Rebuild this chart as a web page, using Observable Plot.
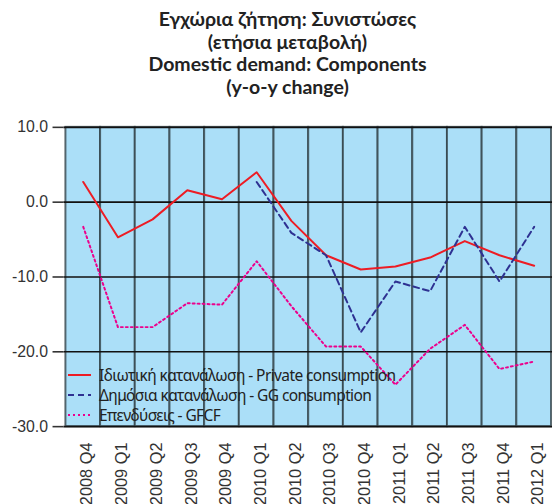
<!DOCTYPE html>
<html><head><meta charset="utf-8">
<script src="https://cdn.jsdelivr.net/npm/d3@7"></script>
<script src="https://cdn.jsdelivr.net/npm/@observablehq/plot@0.6"></script>
<style>
html,body{margin:0;padding:0;overflow:hidden;background:#fff;width:553px;height:504px;position:relative;}
#title{position:absolute;left:22px;top:8px;width:531px;text-align:center;font-family:Lato,"Open Sans",sans-serif;font-weight:bold;font-size:19.5px;line-height:22.5px;color:#222;}
#chart{position:absolute;left:0;top:110px;}
#legend{position:absolute;left:68px;top:365px;font-family:"Noto Sans",sans-serif;font-size:15.5px;letter-spacing:-0.6px;color:#222;}
.row{display:flex;align-items:center;height:20px;white-space:nowrap;}
.row svg{margin-right:8px;}
</style></head><body>
<div id="title">Εγχώρια ζήτηση: Συνιστώσες<br>(ετήσια μεταβολή)<br>Domestic demand: Components<br>(y-o-y change)</div>
<div id="chart"></div>
<div id="legend"></div>
<script>
const quarters = ["2008 Q4","2009 Q1","2009 Q2","2009 Q3","2009 Q4","2010 Q1","2010 Q2","2010 Q3","2010 Q4","2011 Q1","2011 Q2","2011 Q3","2011 Q4","2012 Q1"];
const privateConsumption = [2.7, -4.7, -2.3, 1.6, 0.4, 4.0, -2.5, -7.1, -9.0, -8.6, -7.4, -5.2, -7.1, -8.5];
const ggConsumption = [null, null, null, null, null, 2.7, -4.1, -7.1, -17.4, -10.6, -11.9, -3.3, -10.6, -3.3];
const gfcf = [-3.3, -16.7, -16.7, -13.5, -13.7, -7.9, -13.9, -19.3, -19.3, -24.4, -19.6, -16.4, -22.3, -21.3];
const yTicks = [10, 0, -10, -20, -30];
const seriesNames = ["Ιδιωτική κατανάλωση - Private consumption", "Δημόσια κατανάλωση - GG consumption", "Επενδύσεις - GFCF"];
const seriesValues = [privateConsumption, ggConsumption, gfcf];
const seriesColors = ["#ed1c24", "#2e3192", "#ec008c"];
const seriesDash = [null, "6,4", "2,3"];

const rows = [];
seriesValues.forEach((vals, s) => vals.forEach((v, i) => {
  if (v != null) rows.push({quarter: quarters[i], value: v, series: seriesNames[s]});
}));
const yMin = d3.min(yTicks), yMax = d3.max(yTicks);

const chart = Plot.plot({
  width: 558, height: 420,
  marginLeft: 64, marginRight: 1, marginTop: 17, marginBottom: 101,
  style: {fontFamily: "'Liberation Sans', Arial, sans-serif", fontSize: "16px", color: "#333", background: "transparent"},
  x: {type: "band", domain: quarters, padding: 0, axis: null},
  y: {domain: [yMin, yMax], axis: null},
  marks: [
    Plot.barY(quarters, {x: d => d, y1: yMin, y2: yMax, fill: "#abdff8", stroke: "#33434a", strokeOpacity: 0.8, strokeWidth: 2}),
    Plot.ruleY(yTicks, {stroke: "#111", strokeWidth: 1.6}),
    Plot.axisY({ticks: yTicks, tickFormat: d => d.toFixed(1), tickSize: 11, tickPadding: 5, stroke: "#333", strokeWidth: 1.6, label: null}),
    Plot.axisX({domain: quarters, tickRotate: -90, tickSize: 0, tickPadding: 16, dx: 4, fontSize: 16.5, label: null}),
    ...seriesNames.map((name, s) => Plot.line(rows.filter(r => r.series === name), {
      x: "quarter", y: "value", stroke: seriesColors[s], strokeWidth: 2, strokeDasharray: seriesDash[s]
    }))
  ]
});
document.getElementById("chart").appendChild(chart);

const legend = d3.select("#legend");
seriesNames.forEach((name, s) => {
  const row = legend.append("div").attr("class", "row");
  const svg = row.append("svg").attr("width", 23).attr("height", 20);
  svg.append("line").attr("x1", 0).attr("x2", 23).attr("y1", 10).attr("y2", 10)
    .attr("stroke", seriesColors[s]).attr("stroke-width", 2)
    .attr("stroke-dasharray", seriesDash[s]);
  row.append("span").text(name);
});
</script>
</body></html>
